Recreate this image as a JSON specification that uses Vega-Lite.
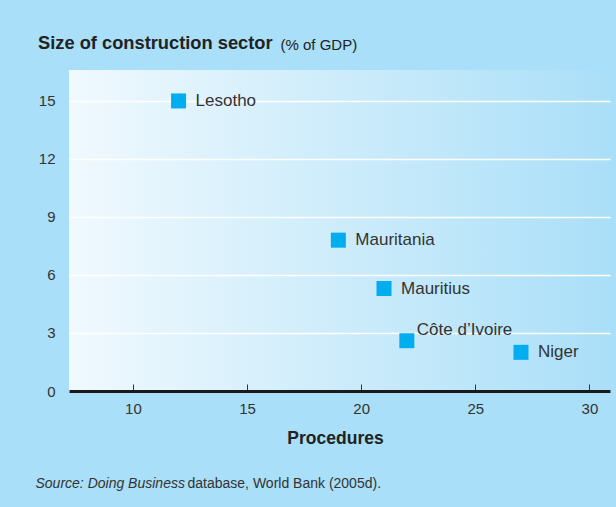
{
  "$schema": "https://vega.github.io/schema/vega-lite/v6.json",
  "width": 541,
  "height": 321,
  "autosize": {"type": "none"},
  "padding": {"left": 69, "top": 70, "right": 6, "bottom": 116},
  "background": "#a9dff8",
  "title": {
    "text": "Size of construction sector",
    "anchor": "start",
    "frame": "group",
    "dx": -31,
    "offset": -30,
    "fontSize": 18.3,
    "fontWeight": "bold",
    "font": "Liberation Sans",
    "color": "#222222",
    "baseline": "alphabetic"
  },
  "data": {
    "values": [
      {"country": "Lesotho", "procedures": 12, "construction": 15},
      {"country": "Mauritania", "procedures": 19, "construction": 7.8},
      {"country": "Mauritius", "procedures": 21, "construction": 5.3},
      {"country": "Côte d’Ivoire", "procedures": 22, "construction": 2.6},
      {"country": "Niger", "procedures": 27, "construction": 2}
    ]
  },
  "config": {
    "font": "Liberation Sans",
    "view": {
      "stroke": null,
      "fill": {
        "gradient": "linear",
        "x1": 0, "x2": 1, "y1": 0, "y2": 0,
        "stops": [
          {"offset": 0, "color": "#f0f9fe"},
          {"offset": 1, "color": "#aadff8"}
        ]
      }
    },
    "axis": {
      "labelFont": "Liberation Sans",
      "labelColor": "#333333",
      "labelFontSize": 15,
      "titleFont": "Liberation Sans",
      "titleColor": "#222222"
    }
  },
  "resolve": {"scale": {"x": "independent", "y": "independent"}},
  "layer": [
    {
      "mark": {"type": "square", "size": 225, "color": "#00aeef", "opacity": 1},
      "encoding": {
        "x": {
          "field": "procedures", "type": "quantitative",
          "scale": {"domain": [7.2, 30.9], "nice": false, "zero": false},
          "axis": {
            "values": [10, 15, 20, 25, 30], "grid": false,
            "domain": true, "domainColor": "#1a1a1a", "domainWidth": 3,
            "tickColor": "#333333", "tickWidth": 1, "tickSize": -7, "labelPadding": 17,
            "title": "Procedures", "titleFontSize": 17.5, "titleFontWeight": "bold",
            "titleX": 266, "titleY": 52, "titleBaseline": "alphabetic", "titleAlign": "center"
          }
        },
        "y": {
          "field": "construction", "type": "quantitative",
          "scale": {"domain": [0, 16.6], "nice": false, "zero": false},
          "axis": {
            "values": [0, 3, 6, 9, 12, 15], "grid": true, "gridColor": "#ffffff", "gridWidth": 1.5,
            "domain": false, "ticks": false, "tickSize": 0, "labelPadding": 14,
            "title": "(% of GDP)", "titleAngle": 0, "titleX": 211, "titleY": -21,
            "titleAlign": "left", "titleBaseline": "alphabetic", "titleFontSize": 15, "titleFontWeight": "normal"
          }
        }
      }
    },
    {
      "transform": [{"filter": "datum.country !== 'Côte d’Ivoire'"}],
      "mark": {"type": "text", "align": "left", "baseline": "middle", "dx": 17, "fontSize": 17, "color": "#333333"},
      "encoding": {
        "x": {
          "field": "procedures", "type": "quantitative",
          "scale": {"domain": [7.2, 30.9], "nice": false, "zero": false},
          "axis": {
            "orient": "top", "labels": false, "ticks": false, "domain": false, "grid": false,
            "title": "Source: Doing Business", "titleFontStyle": "italic", "titleFontWeight": "normal",
            "titleFontSize": 14, "titleColor": "#333333",
            "titleX": -34, "titleY": 417, "titleAlign": "left", "titleBaseline": "alphabetic"
          }
        },
        "y": {
          "field": "construction", "type": "quantitative",
          "scale": {"domain": [0, 16.6], "nice": false, "zero": false},
          "axis": null
        },
        "text": {"field": "country"}
      }
    },
    {
      "transform": [{"filter": "datum.country === 'Côte d’Ivoire'"}],
      "mark": {"type": "text", "align": "left", "baseline": "middle", "dx": 10, "dy": -11, "fontSize": 17, "color": "#333333"},
      "encoding": {
        "x": {
          "field": "procedures", "type": "quantitative",
          "scale": {"domain": [7.2, 30.9], "nice": false, "zero": false},
          "axis": null
        },
        "y": {
          "field": "construction", "type": "quantitative",
          "scale": {"domain": [0, 16.6], "nice": false, "zero": false},
          "axis": {
            "orient": "right", "labels": false, "ticks": false, "domain": false, "grid": false,
            "title": "database, World Bank (2005d).", "titleAngle": 0, "titleFontWeight": "normal",
            "titleFontSize": 14, "titleColor": "#333333",
            "titleX": -423, "titleY": 417, "titleAlign": "left", "titleBaseline": "alphabetic"
          }
        },
        "text": {"field": "country"}
      }
    }
  ]
}
